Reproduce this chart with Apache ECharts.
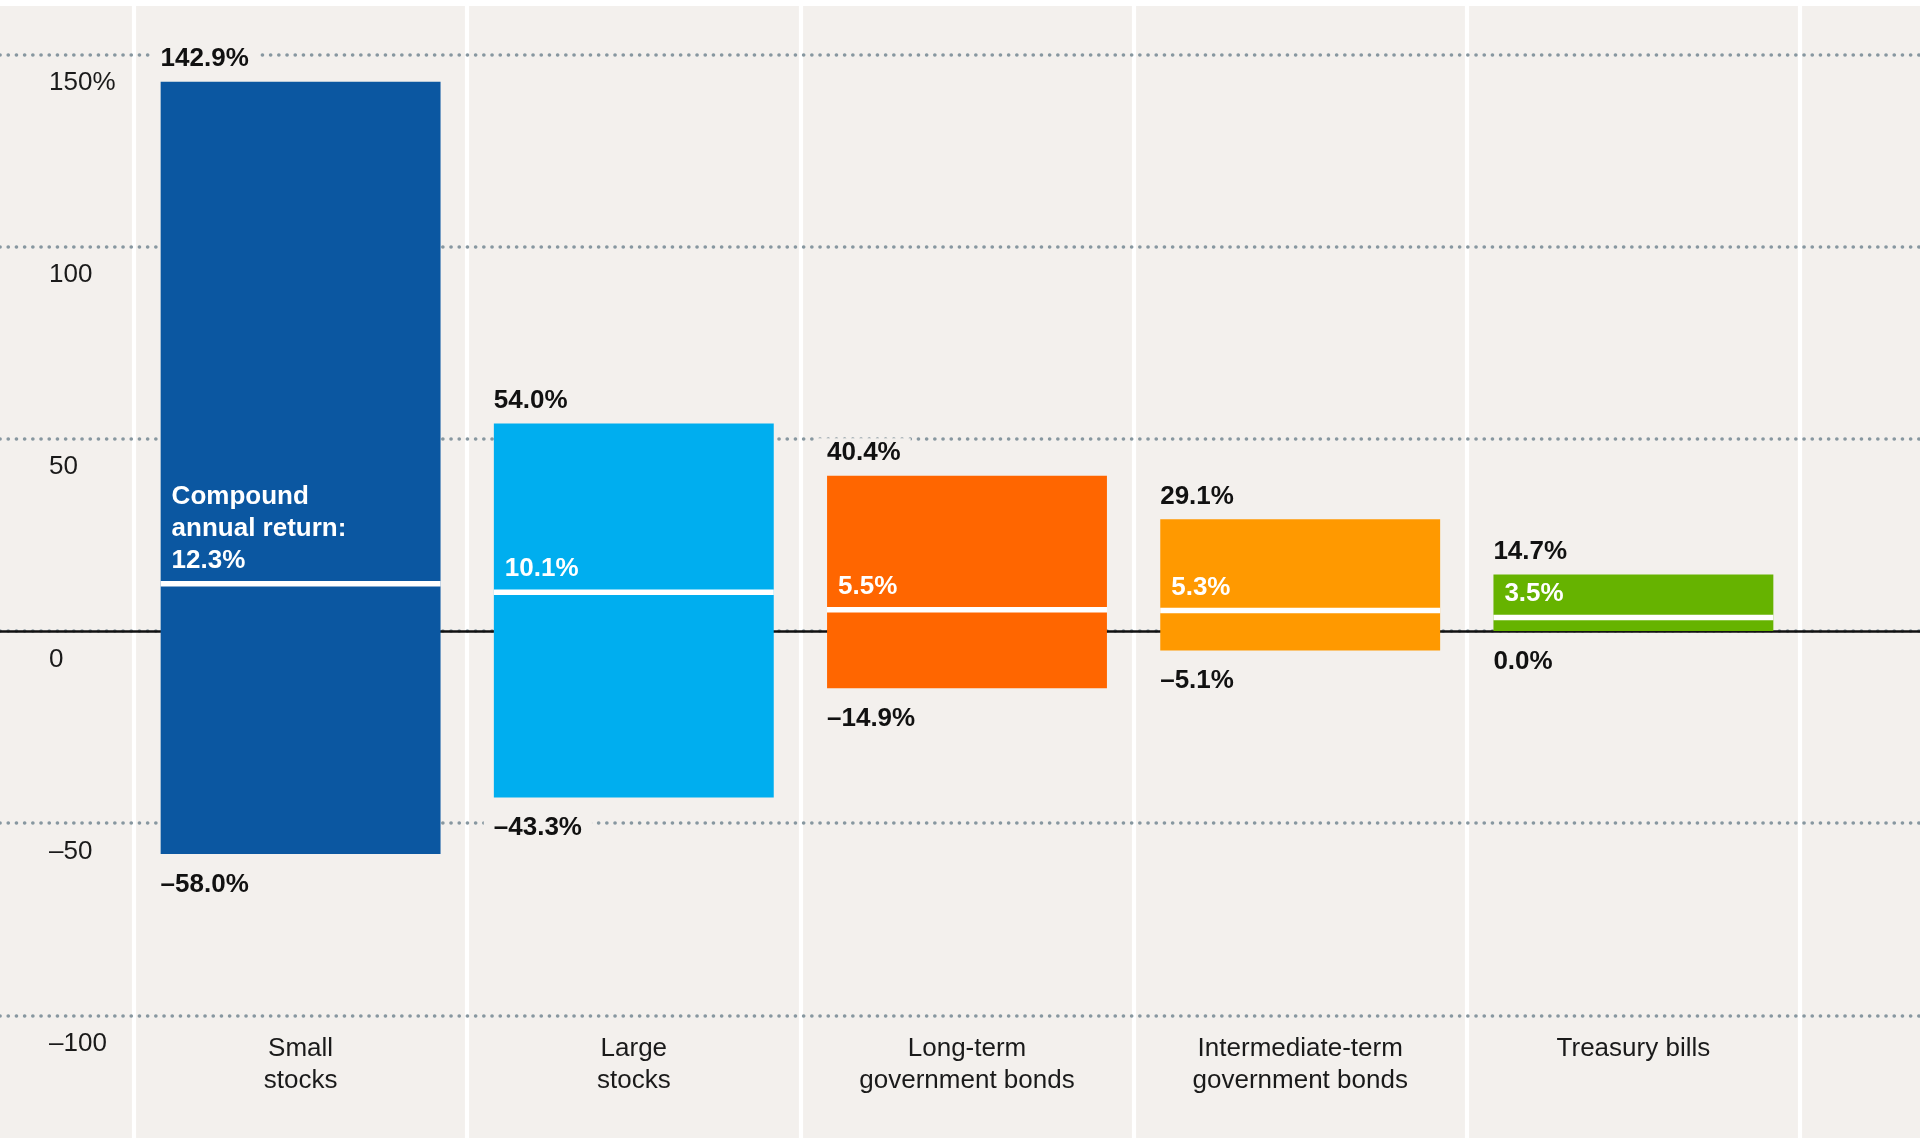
<!DOCTYPE html>
<html><head><meta charset="utf-8">
<script src="https://cdn.jsdelivr.net/npm/echarts@6/dist/echarts.min.js"></script>
<style>
html,body{margin:0;padding:0;background:#fff;width:1920px;height:1138px;overflow:hidden}
#chart{position:absolute;left:0;top:6px;width:1920px;height:1132px}
</style></head>
<body><div id="chart"></div>
<script>
const categories = ['Small\nstocks', 'Large\nstocks', 'Long-term\ngovernment bonds', 'Intermediate-term\ngovernment bonds', 'Treasury bills'];
const highs = [142.9, 54.0, 40.4, 29.1, 14.7];
const lows = [-58.0, -43.3, -14.9, -5.1, 0.0];
const compound = [12.3, 10.1, 5.5, 5.3, 3.5];
const barColors = ['#0b57a1', '#00aeef', '#ff6600', '#ff9900', '#66b300'];
const yTicks = [-100, -50, 0, 50, 100, 150];
const yTickLabels = ['–100', '–50', '0', '50', '100', '150%'];
const compoundPrefix = 'Compound\nannual return:\n';

const FONT = '"Liberation Sans", Arial, Helvetica, sans-serif';
const BG = '#f3f0ed';
const fmt = v => (v < 0 ? '–' : '') + Math.abs(v).toFixed(1) + '%';
const Y_MIN = -100, Y_MAX = 150, Y_STEP = 50;

const valueLabel = {
  show: true, align: 'left', offset: [-150, 0],
  color: '#111', fontFamily: FONT, fontSize: 26, fontWeight: 'bold', lineHeight: 30,
  backgroundColor: BG, padding: [0, 10, 0, 10],
  formatter: p => fmt(p.value)
};

const chart = echarts.init(document.getElementById('chart'), null, {renderer: 'canvas'});
chart.setOption({
  backgroundColor: BG,
  animation: false,
  textStyle: {fontFamily: FONT},
  grid: [
    {left: 134, right: 120, top: 48.5, bottom: 122.7},   // bars
    {left: 0, right: 0, top: 48.5, bottom: 122.7},       // full-width horizontal lines
    {left: 134, right: 120, top: 0, bottom: 0}           // full-height column separators
  ],
  xAxis: [
    {type: 'category', gridIndex: 0, data: categories, position: 'bottom',
     axisLine: {show: false, onZero: false}, axisTick: {show: false}, splitLine: {show: false},
     axisLabel: {interval: 0, fontFamily: FONT, fontSize: 26, lineHeight: 32, color: '#1a1a1a', margin: 17.5}},
    {type: 'value', gridIndex: 1, min: 0, max: 1, z: 1.5,
     axisLine: {show: true, onZero: true, lineStyle: {color: '#111', width: 2.5}},
     axisTick: {show: false}, axisLabel: {show: false}, splitLine: {show: false}},
    {type: 'category', gridIndex: 2, data: categories, z: 0,
     axisLine: {show: false}, axisTick: {show: false}, axisLabel: {show: false},
     splitLine: {show: true, lineStyle: {color: '#ffffff', width: 4.2}}}
  ],
  yAxis: [
    {type: 'value', gridIndex: 0, min: Y_MIN, max: Y_MAX, interval: Y_STEP, show: false, splitLine: {show: false}},
    {type: 'value', gridIndex: 1, min: Y_MIN, max: Y_MAX, interval: Y_STEP, z: 1,
     axisLine: {show: false}, axisTick: {show: false},
     axisLabel: {inside: true, margin: 49, align: 'left', verticalAlign: 'top', padding: [15.5, 0, 0, 0],
       fontFamily: FONT, fontSize: 26, lineHeight: 26, color: '#1a1a1a',
       formatter: v => yTickLabels[yTicks.indexOf(v)]},
     splitLine: {show: true, lineStyle: {color: '#8797a0', width: 3.6, type: [0.1, 8.1], cap: 'round'}}},
    {type: 'value', gridIndex: 2, show: false, splitLine: {show: false}}
  ],
  series: [
    {type: 'bar', name: 'high', xAxisIndex: 0, yAxisIndex: 0, barCategoryGap: '16%', barGap: '-100%', z: 2,
     data: highs.map((v, i) => ({value: v, itemStyle: {color: barColors[i]}})),
     label: Object.assign({}, valueLabel, {position: 'top', distance: 7.5})},
    {type: 'bar', name: 'low', xAxisIndex: 0, yAxisIndex: 0, barCategoryGap: '16%', barGap: '-100%', z: 2,
     data: lows.map((v, i) => ({value: v, itemStyle: {color: barColors[i]}})),
     label: Object.assign({}, valueLabel, {position: 'bottom', distance: 15.5})},
    {type: 'scatter', name: 'compound', xAxisIndex: 0, yAxisIndex: 0, z: 3,
     data: compound, symbol: 'rect', symbolSize: [280, 5.5],
     itemStyle: {color: '#ffffff', opacity: 1},
     emphasis: {disabled: true},
     label: {show: true, position: 'top', distance: 4.5, align: 'left', offset: [-129, 0],
       color: '#ffffff', opacity: 1, fontFamily: FONT, fontSize: 26, fontWeight: 'bold', lineHeight: 32,
       formatter: p => (p.dataIndex === 0 ? compoundPrefix : '') + fmt(p.value)}}
  ]
});
</script>
</body></html>
